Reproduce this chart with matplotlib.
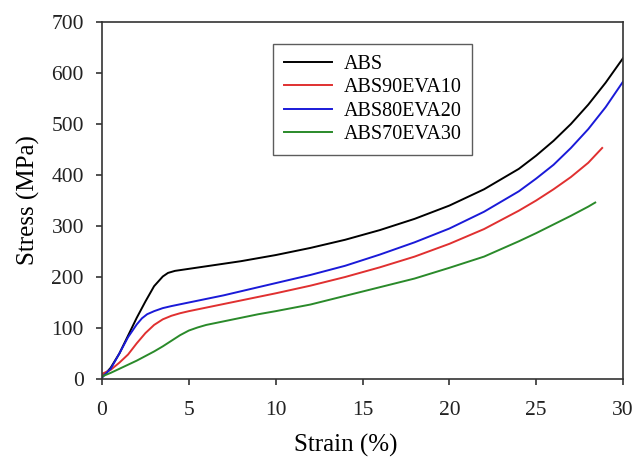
import matplotlib
matplotlib.use("Agg")
import matplotlib.pyplot as plt

plt.rcParams['font.family'] = ['Liberation Serif', 'DejaVu Serif']

abs_strain = [0, 0.5, 1, 1.5, 2, 2.5, 3, 3.5, 3.8, 4.2, 4.6, 5, 6, 7, 8, 9, 10, 12, 14, 16, 18, 20, 22, 24, 25, 26, 27, 28, 29, 30]
abs_stress = [3, 22, 50, 85, 120, 152, 182, 201, 208, 212, 214, 216, 221, 226, 231, 237, 243, 257, 273, 292, 314, 340, 372, 412, 438, 467, 500, 538, 581, 629]

e10_strain = [0, 0.5, 1, 1.5, 2, 2.5, 3, 3.5, 4, 4.5, 5, 6, 7, 8, 9, 10, 12, 14, 16, 18, 20, 22, 24, 25, 26, 27, 28, 28.8]
e10_stress = [10, 18, 32, 48, 70, 90, 106, 117, 124, 129, 133, 140, 147, 154, 161, 168, 183, 200, 219, 240, 265, 294, 330, 350, 372, 396, 424, 453]

e20_strain = [0, 0.5, 1, 1.5, 2, 2.3, 2.6, 3, 3.5, 4, 5, 6, 7, 8, 9, 10, 12, 14, 16, 18, 20, 22, 24, 25, 26, 27, 28, 29, 30]
e20_stress = [3, 20, 50, 82, 107, 119, 127, 133, 139, 143, 150, 157, 164, 172, 180, 188, 204, 222, 244, 268, 295, 328, 368, 393, 420, 453, 490, 533, 583]

e30_strain = [0, 0.5, 1, 1.5, 2, 2.5, 3, 3.5, 4, 4.5, 5, 5.5, 6, 7, 8, 9, 10, 12, 14, 16, 18, 20, 22, 24, 25, 26, 27, 28, 28.4]
e30_stress = [5, 12, 20, 28, 36, 45, 54, 64, 75, 86, 95, 101, 106, 113, 120, 127, 133, 146, 163, 180, 197, 218, 240, 270, 286, 303, 320, 338, 346]

labels = ['ABS', 'ABS90EVA10', 'ABS80EVA20', 'ABS70EVA30']
colors = ['black', '#e03030', '#1a1ad8', '#2a8a2a']

fig = plt.figure(figsize=(6.36, 4.59), dpi=100)
ax = fig.add_axes([102/636, 1-379/459, 521/636, 357/459])

series = [(abs_strain, abs_stress), (e10_strain, e10_stress),
          (e20_strain, e20_stress), (e30_strain, e30_stress)]
for (x, y), lab, c in zip(series, labels, colors):
    ax.plot(x, y, color=c, lw=1.4, label=lab, solid_joinstyle='round')

ax.set_xlim(0, 30)
ax.set_ylim(0, 700)
ax.set_xticks([0, 5, 10, 15, 20, 25, 30])
ax.set_yticks([0, 100, 200, 300, 400, 500, 600, 700])
ax.tick_params(direction='out', length=4, width=1.1, labelsize=15.5, colors='#222222')
ax.tick_params(axis='x', pad=12)
ax.tick_params(axis='y', pad=9)
ax.tick_params(top=False, right=False)
for s in ax.spines.values():
    s.set_linewidth(1.2)
    s.set_color('#333333')

ax.set_xlabel('Strain (%)', fontsize=18, labelpad=9)
ax.xaxis.set_label_coords(0.468, -0.155)
ax.set_ylabel('Stress (MPa)', fontsize=18, labelpad=8)

leg = ax.legend(loc='upper left', bbox_to_anchor=(0.328, 0.938), borderaxespad=0,
                fontsize=14.5, handlelength=2.4, handletextpad=0.55, labelspacing=0.2,
                borderpad=0.55, fancybox=False, frameon=True)
leg.get_frame().set_edgecolor('#333333')
leg.get_frame().set_linewidth(1.0)

fig.savefig('out.png', dpi=100)
